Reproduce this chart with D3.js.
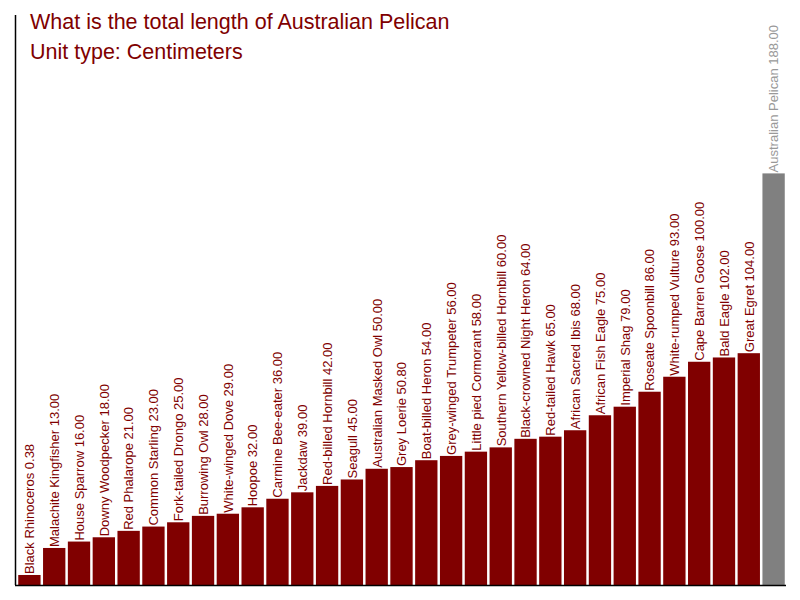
<!DOCTYPE html>
<html>
<head>
<meta charset="utf-8">
<script src="https://cdn.jsdelivr.net/npm/d3@7"></script>
<style>
  body { margin: 0; background: #fff; }
  text { font-family: "Liberation Sans", Arial, sans-serif; }
</style>
</head>
<body>
<div id="chart"></div>
<script>
const birds = [
  "Black Rhinoceros", "Malachite Kingfisher", "House Sparrow", "Downy Woodpecker",
  "Red Phalarope", "Common Starling", "Fork-tailed Drongo", "Burrowing Owl",
  "White-winged Dove", "Hoopoe", "Carmine Bee-eater", "Jackdaw",
  "Red-billed Hornbill", "Seagull", "Australian Masked Owl", "Grey Loerie",
  "Boat-billed Heron", "Grey-winged Trumpeter", "Little pied Cormorant",
  "Southern Yellow-billed Hornbill", "Black-crowned Night Heron", "Red-tailed Hawk",
  "African Sacred Ibis", "African Fish Eagle", "Imperial Shag", "Roseate Spoonbill",
  "White-rumped Vulture", "Cape Barren Goose", "Bald Eagle", "Great Egret",
  "Australian Pelican"
];
const lengths = [
  0.38, 13, 16, 18, 21, 23, 25, 28, 29, 32, 36, 39, 42, 45, 50, 50.8,
  54, 56, 58, 60, 64, 65, 68, 75, 79, 86, 93, 100, 102, 104, 188
];
const highlight = "Australian Pelican";
const titleLines = [
  "What is the total length of Australian Pelican",
  "Unit type: Centimeters"
];

const width = 800;
const height = 600;

const data = birds.map((name, i) => ({ name: name, value: lengths[i] }));

const svg = d3
  .select("#chart")
  .append("svg")
  .attr("width", width)
  .attr("height", height);

// bands across the plot, bars a little apart
const x = d3.scaleBand()
  .domain(birds)
  .range([17, 786])
  .paddingInner(0.1)
  .paddingOuter(0.05);

// zero sits a few px above the baseline, like the original
const y = d3.scaleLinear()
  .domain([-4.3, 262])
  .range([585, 15]);

// bars
svg.selectAll("rect.bar")
  .data(data)
  .join("rect")
  .attr("class", "bar")
  .attr("x", (d) => x(d.name))
  .attr("y", (d) => y(d.value))
  .attr("width", x.bandwidth())
  .attr("height", (d) => y.range()[0] - y(d.value))
  .style("fill", (d) => d.name === highlight ? "#808080" : "#800000");

// labels, rotated, sitting on top of each bar
svg.selectAll("text.label")
  .data(data)
  .join("text")
  .attr("class", "label")
  .attr("transform", (d) =>
    "translate(" + (x(d.name) + 16) + "," + (y(d.value) - 1) + ")rotate(-90)")
  .style("font-size", "13px")
  .style("fill", (d) => d.name === highlight ? "#999999" : "#800000")
  .text((d) => d.name + " " + d.value.toFixed(2));

// axes lines
svg.append("line")
  .attr("x1", 15.5).attr("x2", 15.5)
  .attr("y1", y.range()[1]).attr("y2", y.range()[0])
  .style("stroke", "#000")
  .style("stroke-width", 1.5);

svg.append("line")
  .attr("x1", 15).attr("x2", 786)
  .attr("y1", 585.5).attr("y2", 585.5)
  .style("stroke", "#000")
  .style("stroke-width", 1.5);

// title
svg.selectAll("text.title")
  .data(titleLines)
  .join("text")
  .attr("class", "title")
  .attr("x", 30)
  .attr("y", (d, i) => 29 + i * 30)
  .style("font-size", "21.5px")
  .style("fill", "#800000")
  .text((d) => d);
</script>
</body>
</html>
